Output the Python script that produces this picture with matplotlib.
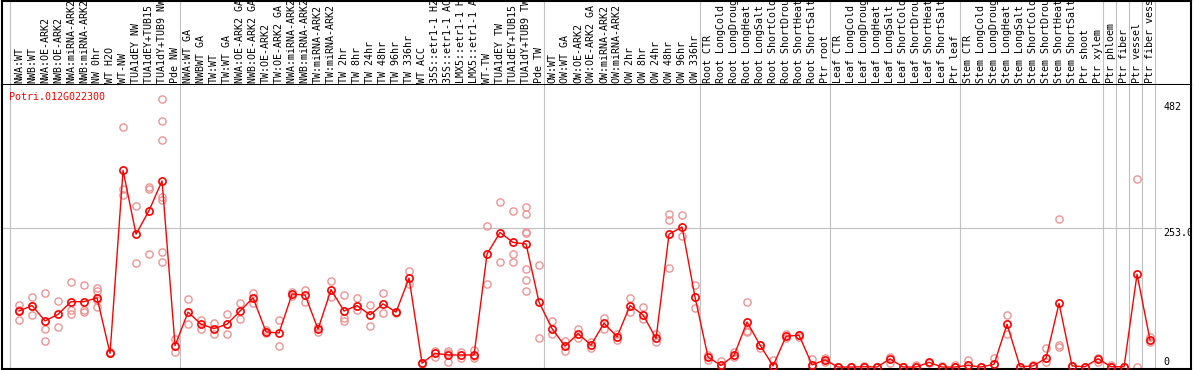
import matplotlib
matplotlib.use("Agg")
import matplotlib.pyplot as plt

gene = "Potri.012G022300"

labels = [
    "NWA:WT", "NWB:WT", "NWA:OE-ARK2", "NWB:OE-ARK2", "NWA:miRNA-ARK2", "NWB:miRNA-ARK2",
    "NW 0hr", "WT H2O", "WT-NW", "TUA1dEY NW", "TUA1dEY+TUB15 NW", "TUA1dY+TUB9 NW", "Pde NW",
    "NWA:WT GA", "NWBWT GA", "TW:WT", "TW:WT GA", "NWA:OE-ARK2 GA", "NWB:OE-ARK2 GA",
    "TW:OE-ARK2", "TW:OE-ARK2 GA", "NWA:miRNA-ARK2 GA", "NWB:miRNA-ARK2 GA", "TW:miRNA-ARK2",
    "TW:miRNA-ARK2 GA", "TW 2hr", "TW 8hr", "TW 24hr", "TW 48hr", "TW 96hr", "TW 336hr",
    "WT ACC", "35S::etr1-1 H2O", "35S::etr1-1 ACC", "LMX5::etr1-1 H2O", "LMX5::etr1-1 ACC",
    "WT-TW", "TUA1dEY TW", "TUA1dEY+TUB15 TW", "TUA1dY+TUB9 TW", "Pde TW",
    "OW:WT", "OW:WT GA", "OW:OE-ARK2", "OW:OE-ARK2 GA", "OW:miRNA-ARK2", "OW:miRNA-ARK2 GA",
    "OW 2hr", "OW 8hr", "OW 24hr", "OW 48hr", "OW 96hr", "OW 336hr",
    "Root CTR", "Root LongCold", "Root LongDrought", "Root LongHeat", "Root LongSalt",
    "Root ShortCold", "Root ShortDrought", "Root ShortHeat", "Root ShortSalt", "Ptr root",
    "Leaf CTR", "Leaf LongCold", "Leaf LongDrought", "Leaf LongHeat", "Leaf LongSalt",
    "Leaf ShortCold", "Leaf ShortDrought", "Leaf ShortHeat", "Leaf ShortSalt", "Ptr leaf",
    "Stem CTR", "Stem LongCold", "Stem LongDrought", "Stem LongHeat", "Stem LongSalt",
    "Stem ShortCold", "Stem ShortDrought", "Stem ShortHeat", "Stem ShortSalt", "Ptr shoot",
    "Ptr xylem", "Ptr phloem", "Ptr fiber", "Ptr vessel", "Ptr fiber vessel",
]

# last index of each sample group (a grey separator follows it)
group_ends = [12, 40, 52, 62, 72, 83, 84, 85, 86, 87]

means = [
    102, 112, 84, 96, 119, 119, 126, 25, 358, 242, 285, 339, 39,
    100, 78, 70, 78, 102, 126, 64, 62, 133, 131, 69, 141, 102, 112, 95, 115, 100, 162,
    7, 25, 22, 22, 22, 206, 245, 227, 224, 118,
    70, 38, 61, 40, 80, 55, 112, 95, 52, 242, 255, 127,
    18, 3, 21, 82, 40, 2, 56, 58, 4, 13,
    0, 0, 0.5, 0, 15, 0, 0, 8.5, 0, 0,
    3, 0, 5, 78, 0.5, 2, 16, 116, 2, 0.5, 15,
    0.5, 0.5, 169, 49,
]

replicates = [
    [113, 86, 104], [128, 94, 112], [135, 70, 47], [120, 73], [154, 104, 96],
    [149, 104, 101], [144, 138, 122, 109], [28, 25], [437, 325, 313], [293, 189],
    [328, 324, 205], [489, 449, 413, 310, 304, 209, 192], [51, 27],
    [123, 78], [86, 70], [80, 60], [97, 60], [116, 87], [135, 116], [67, 62], [86, 39],
    [136, 130], [141, 119], [72, 64], [157, 128], [131, 90, 84], [125, 104], [113, 74],
    [135, 98], [101, 98], [174, 151], [8, 6], [30, 18], [30, 10, 26], [28, 16],
    [31, 16, 20], [256, 152], [300, 191], [284, 205, 191],
    [291, 279, 246, 245, 178, 158, 138], [185, 52],
    [84, 60], [48, 29], [69, 52], [45, 34], [89, 69], [61, 50], [125, 100], [110, 87],
    [60, 45], [279, 267, 180], [276, 238], [149, 107],
    [21, 13], [11, 0], [27, 19], [118, 66, 63], [41, 34], [12, 0], [60, 52], [59, 55],
    [14, 0], [16, 10],
    [0, 0], [0, 0], [1, 0], [0, 0], [19, 7], [0, 0], [3, 0], [8], [1], [3, 0],
    [13, 3], [0], [17, 5], [94, 61], [0], [4, 3], [35, 9], [269, 40, 36], [2], [0],
    [16, 10],
    [3, 0], [0], [342, 0], [55, 45],
]

right_ticks = ["482", "253.0", "0"]
right_vals = [482, 253, 0]

W, H = 1194, 370
fig = plt.figure(figsize=(W / 100, H / 100), dpi=100)


def px_axes(x0, y0, x1, y1):
    return fig.add_axes([x0 / W, 1 - y1 / H, (x1 - x0) / W, (y1 - y0) / H])


ax_lab = px_axes(1.5, 1, 1191, 85)
ax = px_axes(1.5, 85, 1191, 369)

xlim = (-1.35, 90.15)
for a in (ax_lab, ax):
    a.set_xlim(*xlim)
    a.set_xticks([])
    a.set_yticks([])
    for s in a.spines.values():
        s.set_color("black")
        s.set_linewidth(1.5)
ax.spines["top"].set_visible(False)
ax_lab.set_ylim(0, 1)
ax.set_ylim(-3.6, 513.7)

grey = "#c0c0c0"
seps = [-0.7] + [e + 0.4 for e in group_ends]
for a in (ax_lab, ax):
    for b in seps:
        a.axvline(b, color=grey, lw=0.8, zorder=0)
ax.hlines(253, xlim[0], 87.9, color=grey, lw=0.8, zorder=0)

mono = "DejaVu Sans Mono"
fs = 7.2
for i, lab in enumerate(labels):
    ax_lab.text(i, 0.02, lab, rotation=90, ha="center", va="bottom",
                family=mono, fontsize=fs, clip_on=True)

# replicate samples
for i, reps in enumerate(replicates):
    ax.plot([i] * len(reps), reps, "o", ms=5.2, mfc="none", mec="#ec9494",
            mew=1.0, zorder=2, clip_on=True)

x = list(range(len(means)))
ax.plot(x, means, "-", color="red", lw=1.0, zorder=3)
ax.plot(x, means, "o", ms=5.2, mfc="none", mec="red", mew=1.2, zorder=4)

ax.text((9 - 19) / 13, 492, gene, color="red", family=mono, fontsize=fs,
        ha="left", va="center")

for t, v in zip(right_ticks, right_vals):
    ax.text(88.05, v, t, family=mono, fontsize=fs, ha="left",
            va="bottom" if v == 0 else "top", clip_on=True)

fig.savefig("out.png", dpi=100)
